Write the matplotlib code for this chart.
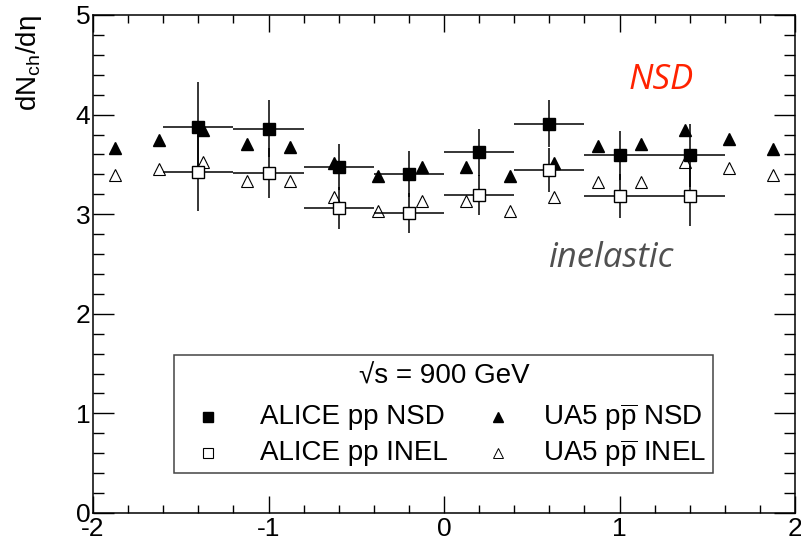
import matplotlib
matplotlib.use("Agg")
import matplotlib.pyplot as plt
from matplotlib.patches import Rectangle
from matplotlib.ticker import MultipleLocator

plt.rcParams['font.family'] = ['Liberation Sans', 'DejaVu Sans']
plt.rcParams['mathtext.fontset'] = 'custom'
plt.rcParams['mathtext.rm'] = 'Liberation Sans'
plt.rcParams['mathtext.it'] = 'Liberation Sans:italic'

# ALICE pp 900 GeV (bins of 0.4 in eta)
alice_eta = [-1.4, -1.0, -0.6, -0.2, 0.2, 0.6, 1.0, 1.4]
alice_eta_err = [0.2, 0.2, 0.2, 0.2, 0.2, 0.2, 0.2, 0.2]
alice_nsd = [3.88, 3.86, 3.47, 3.40, 3.62, 3.91, 3.59, 3.59]
alice_nsd_err = [0.45, 0.29, 0.23, 0.23, 0.24, 0.24, 0.25, 0.32]
alice_inel = [3.42, 3.41, 3.06, 3.01, 3.19, 3.44, 3.18, 3.18]
alice_inel_err = [0.39, 0.25, 0.21, 0.20, 0.20, 0.22, 0.22, 0.30]

# UA5 ppbar 900 GeV (bins of 0.25 in eta)
ua5_eta = [-1.875, -1.625, -1.375, -1.125, -0.875, -0.625, -0.375, -0.125,
           0.125, 0.375, 0.625, 0.875, 1.125, 1.375, 1.625, 1.875]
ua5_nsd = [3.66, 3.74, 3.85, 3.70, 3.67, 3.51, 3.38, 3.47,
           3.47, 3.38, 3.51, 3.68, 3.70, 3.85, 3.75, 3.65]
ua5_inel = [3.39, 3.45, 3.52, 3.33, 3.33, 3.17, 3.03, 3.13,
            3.13, 3.03, 3.17, 3.32, 3.32, 3.52, 3.46, 3.39]
ua5_err = [0.04] * 16

x_ticks = [-2, -1, 0, 1, 2]
y_ticks = [0, 1, 2, 3, 4, 5]

fig = plt.figure(figsize=(8.01, 5.44), dpi=100)
ax = fig.add_axes([93 / 801, 1 - 513 / 544, 702 / 801, 498 / 544])

# UA5 points
ax.errorbar(ua5_eta, ua5_nsd, yerr=ua5_err, fmt='^', color='black', ms=8,
            mfc='black', mec='black', elinewidth=1, capsize=0, zorder=3)
ax.errorbar(ua5_eta, ua5_inel, yerr=ua5_err, fmt='^', color='black', ms=8.5,
            mfc='white', mec='black', mew=0.8, elinewidth=1, capsize=0, zorder=3)

# ALICE points
ax.errorbar(alice_eta, alice_nsd, xerr=alice_eta_err, yerr=alice_nsd_err, fmt='s',
            color='black', ms=9, mfc='black', mec='black', elinewidth=1.1,
            capsize=0, zorder=4)
ax.errorbar(alice_eta, alice_inel, xerr=alice_eta_err, yerr=alice_inel_err, fmt='s',
            color='black', ms=9, mfc='white', mec='black', mew=1.0, elinewidth=1.1,
            capsize=0, zorder=4)

ax.set_xlim(-2, 2)
ax.set_ylim(0, 5)
ax.set_xticks(x_ticks)
ax.set_yticks(y_ticks)
ax.set_xticklabels([str(t) for t in x_ticks])
ax.set_yticklabels([str(t) for t in y_ticks])
ax.xaxis.set_minor_locator(MultipleLocator(0.2))
ax.yaxis.set_minor_locator(MultipleLocator(0.2))
ax.tick_params(axis='both', which='both', direction='in', top=True, right=True,
               width=1, labelsize=19)
ax.tick_params(axis='x', which='major', length=12, pad=3)
ax.tick_params(axis='x', which='minor', length=5.5)
ax.tick_params(axis='y', which='major', length=15, pad=2)
ax.tick_params(axis='y', which='minor', length=8)
for sp in ax.spines.values():
    sp.set_linewidth(1.1)

fig.text(29 / 801, 1 - 15 / 544, r'dN$_{\mathregular{ch}}$/dη', rotation=90,
         ha='center', va='top', fontsize=20)

# labels on the plot
ax.text(0.809, 0.8695, 'NSD', transform=ax.transAxes, ha='center', va='center',
        fontsize=25, style='italic', color='#ff2200', family=['Open Sans', 'DejaVu Sans'])
ax.text(0.738, 0.512, 'inelastic', transform=ax.transAxes, ha='center', va='center',
        fontsize=25, style='italic', color='#505050', family=['Open Sans', 'DejaVu Sans'])

# legend box
box = Rectangle((0.1154, 0.0803), 0.883 - 0.1154, 0.3173 - 0.0803, transform=ax.transAxes,
                facecolor='white', edgecolor='#444444', lw=1.1, zorder=5)
ax.add_patch(box)
ax.text(0.5, 0.273, '√s = 900 GeV', transform=ax.transAxes, ha='center', va='center',
        fontsize=20, zorder=6)
rows = [0.1928, 0.1205]
ax.plot([0.1638], [rows[0]], 's', color='black', ms=7, transform=ax.transAxes, zorder=6)
ax.plot([0.1638], [rows[1]], 's', mfc='white', mec='black', mew=0.8, ms=7,
        transform=ax.transAxes, zorder=6)
ax.plot([0.577], [rows[0]], '^', color='black', ms=7, transform=ax.transAxes, zorder=6)
ax.plot([0.577], [rows[1]], '^', mfc='white', mec='black', mew=0.7, ms=7,
        transform=ax.transAxes, zorder=6)
ax.text(0.2379, rows[0], 'ALICE pp NSD', transform=ax.transAxes, ha='left', va='center',
        fontsize=20, zorder=6)
ax.text(0.2379, rows[1], 'ALICE pp INEL', transform=ax.transAxes, ha='left', va='center',
        fontsize=20, zorder=6)
ax.text(0.641, rows[0], r'UA5 p$\overline{\mathregular{p}}$ NSD', transform=ax.transAxes,
        ha='left', va='center', fontsize=20, zorder=6)
ax.text(0.641, rows[1], r'UA5 p$\overline{\mathregular{p}}$ INEL', transform=ax.transAxes,
        ha='left', va='center', fontsize=20, zorder=6)

fig.savefig('out.png', dpi=100)
